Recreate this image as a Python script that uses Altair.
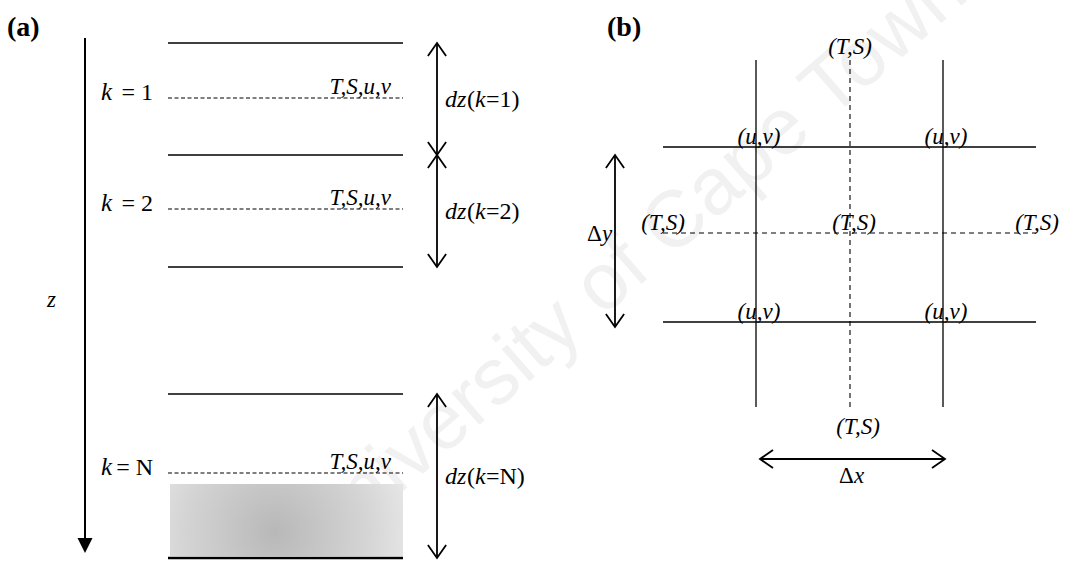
import altair as alt
import pandas as pd

W, H = 1065, 561

# ---------------- panel (a): vertical layering ----------------
interfaces = [43, 155, 267, 394]          # solid layer boundaries (depth)
bottom_depth = 558                        # sea floor
levels = [98, 209, 473]                   # T,S,u,v levels (dashed)
level_names = ["1", "2", "N"]
layer_x = [168, 403]
dz_spans = [[43, 155], [155, 267], [394, 558]]
dz_x = 437
z_axis_x = 85
z_axis_top = 38
z_axis_tip = 553
sediment_box = [170, 403, 484, 556]       # x, x2, y, y2

# ---------------- panel (b): horizontal grid ----------------
grid_solid_x = [756, 943]
grid_dashed_x = [850]
grid_solid_y = [147, 322]
grid_dashed_y = [233]
grid_x_span = [663, 1036]
grid_y_span = [60, 407]
dy_arrow = [615, 155, 327]                # x, y_top, y_bottom
dx_arrow = [459, 760, 945]                # y, x_left, x_right

xs = alt.Scale(domain=[0, W], nice=False, zero=False)
ys = alt.Scale(domain=[0, H], nice=False, zero=False, reverse=True)

SERIF = "Liberation Serif, Times New Roman, serif"


def X(f="x"):
    return alt.X(f"{f}:Q", scale=xs, axis=None)


def Y(f="y"):
    return alt.Y(f"{f}:Q", scale=ys, axis=None)


# ---- line segments ----
solid, dashed_a, dashed_b, arrows = [], [], [], []
for y in interfaces:
    solid.append(dict(x=layer_x[0], x2=layer_x[1], y=y, y2=y))
for y in levels:
    dashed_a.append(dict(x=layer_x[0], x2=layer_x[1], y=y, y2=y))
for x in grid_solid_x:
    solid.append(dict(x=x, x2=x, y=grid_y_span[0], y2=grid_y_span[1]))
for y in grid_solid_y:
    solid.append(dict(x=grid_x_span[0], x2=grid_x_span[1], y=y, y2=y))
for x in grid_dashed_x:
    dashed_b.append(dict(x=x, x2=x, y=grid_y_span[0], y2=grid_y_span[1]))
for y in grid_dashed_y:
    dashed_b.append(dict(x=grid_x_span[0], x2=grid_x_span[1], y=y, y2=y))

heads = []   # open arrow heads: tip position + direction
for top, bot in dz_spans:
    arrows.append(dict(x=dz_x, x2=dz_x, y=top, y2=bot))
    heads.append(dict(x=dz_x, y=top, a=0))
    heads.append(dict(x=dz_x, y=bot, a=180))
arrows.append(dict(x=dy_arrow[0], x2=dy_arrow[0], y=dy_arrow[1], y2=dy_arrow[2]))
heads.append(dict(x=dy_arrow[0], y=dy_arrow[1], a=0))
heads.append(dict(x=dy_arrow[0], y=dy_arrow[2], a=180))
arrows.append(dict(x=dx_arrow[1], x2=dx_arrow[2], y=dx_arrow[0], y2=dx_arrow[0]))
heads.append(dict(x=dx_arrow[1], y=dx_arrow[0], a=270))
heads.append(dict(x=dx_arrow[2], y=dx_arrow[0], a=90))


def rules(rows, **kw):
    return alt.Chart(pd.DataFrame(rows)).mark_rule(color="black", **kw).encode(
        x=X(), x2="x2:Q", y=Y(), y2="y2:Q"
    )


solid_layer = rules(solid, strokeWidth=1.3)
dashed_a_layer = rules(dashed_a, strokeWidth=1.1, strokeDash=[4, 2.5])
dashed_b_layer = rules(dashed_b, strokeWidth=1.1, strokeDash=[5, 4])
arrow_layer = rules(arrows, strokeWidth=1.8)
floor_layer = rules(
    [dict(x=layer_x[0], x2=layer_x[1], y=bottom_depth, y2=bottom_depth)],
    strokeWidth=2.6,
)
z_layer = rules(
    [dict(x=z_axis_x, x2=z_axis_x, y=z_axis_top, y2=z_axis_tip - 8)],
    strokeWidth=2.0,
)

head_layer = alt.Chart(pd.DataFrame(heads)).mark_point(
    shape="M-0.7,1L0,0L0.7,1",
    filled=False,
    color="black",
    strokeWidth=1.8,
    opacity=1,
    size=676,
).encode(x=X(), y=Y(), angle=alt.Angle("a:Q", scale=None))

z_head = alt.Chart(pd.DataFrame([dict(x=z_axis_x, y=z_axis_tip)])).mark_point(
    shape="M-0.5,-1L0.5,-1L0,0Z",
    filled=True,
    color="black",
    opacity=1,
    size=900,
).encode(x=X(), y=Y())

# stippled sediment at the bottom of the column
sediment = alt.Chart(
    pd.DataFrame([dict(x=sediment_box[0], x2=sediment_box[1],
                       y=sediment_box[2], y2=sediment_box[3])])
).mark_rect(
    fill=alt.Gradient(
        gradient="radial",
        stops=[
            alt.GradientStop(color="#b8b8b8", offset=0),
            alt.GradientStop(color="#d4d4d4", offset=0.6),
            alt.GradientStop(color="#ececec", offset=1),
        ],
        x1=0.45, y1=0.55, r1=0, x2=0.45, y2=0.55, r2=0.65,
    )
).encode(x=X(), x2="x2:Q", y=Y(), y2="y2:Q")

# ---- text ----
# (text, x, y, size, style, weight, align)
texts = [
    ("(a)", 7, 36, 28, "normal", "bold", "left"),
    ("(b)", 607, 36, 28, "normal", "bold", "left"),
    ("z", 47, 307, 23, "italic", "normal", "left"),
]
for lev, name in zip(levels, level_names):
    texts.append(("k", 101, lev + 2, 25, "italic", "normal", "left"))
    texts.append((f"= {name}", 153, lev + 2, 24, "normal", "normal", "right"))
    texts.append(("T,S,u,v", 391, lev - 4, 23, "italic", "normal", "right"))
for (top, bot), name in zip(dz_spans, level_names):
    yb = (top + bot) / 2 + 8
    texts.append(("dz", 445, yb, 24, "italic", "normal", "left"))
    texts.append(("(", 467, yb, 24, "normal", "normal", "left"))
    texts.append(("k", 475, yb, 24, "italic", "normal", "left"))
    texts.append((f"={name})", 486, yb, 24, "normal", "normal", "left"))

texts += [
    ("(T,S)", grid_dashed_x[0], 54, 23, "italic", "normal", "center"),
    ("(T,S)", 663, 230, 23, "italic", "normal", "center"),
    ("(T,S)", 854, 230, 23, "italic", "normal", "center"),
    ("(T,S)", 1037, 230, 23, "italic", "normal", "center"),
    ("(T,S)", 858, 434, 23, "italic", "normal", "center"),
]
for gy in grid_solid_y:
    for gx in grid_solid_x:
        texts.append(("(u,v)", gx + 3, gy - 3, 23, "italic", "normal", "center"))
texts += [
    ("Δ", 587, 241, 23, "normal", "normal", "left"),
    ("y", 602, 241, 23, "italic", "normal", "left"),
    ("Δ", 839, 483, 23, "normal", "normal", "left"),
    ("x", 854, 483, 23, "italic", "normal", "left"),
]

tdf = pd.DataFrame(texts, columns=["t", "x", "y", "s", "style", "weight", "align"])
text_layers = []
for (style, weight, align), g in tdf.groupby(["style", "weight", "align"]):
    text_layers.append(
        alt.Chart(g).mark_text(
            font=SERIF,
            fontStyle=style,
            fontWeight=weight,
            align=align,
            baseline="alphabetic",
            color="black",
        ).encode(x=X(), y=Y(), text="t:N", size=alt.Size("s:Q", scale=None))
    )

watermark = alt.Chart(
    pd.DataFrame([dict(x=630, y=262, t="University of Cape Town")])
).mark_text(
    font="Liberation Sans",
    fontSize=80,
    angle=319,
    color="#f1f1f1",
    align="center",
    baseline="middle",
).encode(x=X(), y=Y(), text="t:N")

chart = alt.layer(
    watermark,
    sediment,
    solid_layer,
    floor_layer,
    dashed_a_layer,
    dashed_b_layer,
    arrow_layer,
    head_layer,
    z_layer,
    z_head,
    *text_layers,
).properties(
    width=W,
    height=H,
    padding=0,
    background="white",
    autosize=alt.AutoSizeParams(type="none"),
).configure_view(stroke=None)

chart.save("out.html", embed_options={"renderer": "svg", "actions": False})
